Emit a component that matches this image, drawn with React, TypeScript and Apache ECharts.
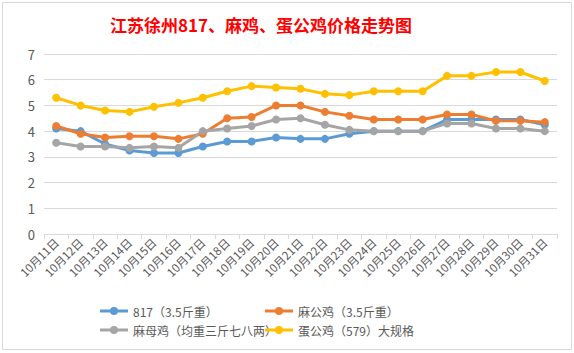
import React, { useEffect, useRef } from "react";
import * as echarts from "echarts";

const categories = [
  "10月11日", "10月12日", "10月13日", "10月14日", "10月15日", "10月16日", "10月17日",
  "10月18日", "10月19日", "10月20日", "10月21日", "10月22日", "10月23日", "10月24日",
  "10月25日", "10月26日", "10月27日", "10月28日", "10月29日", "10月30日", "10月31日",
];

const s817 = [4.1, 4.0, 3.5, 3.25, 3.15, 3.15, 3.4, 3.6, 3.6, 3.75, 3.7, 3.7, 3.9, 4.0, 4.0, 4.0, 4.45, 4.45, 4.45, 4.45, 4.25];
const maGongJi = [4.2, 3.9, 3.75, 3.8, 3.8, 3.7, 3.9, 4.5, 4.55, 5.0, 5.0, 4.75, 4.6, 4.45, 4.45, 4.45, 4.65, 4.65, 4.4, 4.4, 4.35];
const maMuJi = [3.55, 3.4, 3.4, 3.35, 3.4, 3.35, 4.0, 4.1, 4.2, 4.45, 4.5, 4.25, 4.05, 4.0, 4.0, 4.0, 4.3, 4.3, 4.1, 4.1, 4.0];
const danGongJi = [5.3, 5.0, 4.8, 4.75, 4.95, 5.1, 5.3, 5.55, 5.75, 5.7, 5.65, 5.45, 5.4, 5.55, 5.55, 5.55, 6.15, 6.15, 6.3, 6.3, 5.95];

const seriesNames = ["817（3.5斤重）", "麻公鸡（3.5斤重）", "麻母鸡（均重三斤七八两）", "蛋公鸡（579）大规格"];
const seriesData = [s817, maGongJi, maMuJi, danGongJi];
const colors = ["#5b9bd5", "#ed7d31", "#a5a5a5", "#ffc000"];

const FONT = "'Noto Sans CJK SC', 'Microsoft YaHei', sans-serif";
const LEGEND_ICON = "path://M0,2.5H28V5.5H0Z M10,4A4,4 0 0 1 18,4A4,4 0 0 1 10,4Z";

export default function App() {
  const ref = useRef<HTMLDivElement>(null);
  useEffect(() => {
    if (!ref.current) return;
    const chart = echarts.init(ref.current, null, { renderer: "svg" });
    const legendPos = [
      { left: 100, top: 305 },
      { left: 265, top: 305 },
      { left: 100, top: 324 },
      { left: 265, top: 324 },
    ];
    chart.setOption({
      animation: false,
      backgroundColor: "#ffffff",
      textStyle: { fontFamily: FONT },
      graphic: [
        {
          type: "rect",
          shape: { x: 2.5, y: 2.5, width: 569, height: 347 },
          style: { fill: "none", stroke: "#d9d9d9", lineWidth: 1 },
          silent: true,
        },
        {
          type: "text",
          x: 261,
          y: 16,
          style: {
            text: "江苏徐州817、麻鸡、蛋公鸡价格走势图",
            fill: "#ff0000",
            font: `bold 17px ${FONT}`,
            textAlign: "center",
          },
        },
      ],
      legend: seriesNames.map((n, i) => ({
        data: [{ name: n, icon: LEGEND_ICON }],
        left: legendPos[i].left,
        top: legendPos[i].top,
        itemWidth: 28,
        itemHeight: 8,
        itemGap: 4,
        padding: 0,
        textStyle: { color: "#595959", fontSize: 12, fontFamily: FONT },
      })),
      grid: { left: 44, right: 17, top: 54, bottom: 119, containLabel: false },
      xAxis: {
        type: "category",
        data: categories,
        boundaryGap: true,
        axisLine: { lineStyle: { color: "#d9d9d9" } },
        axisTick: { show: true, length: 5, lineStyle: { color: "#d9d9d9" } },
        axisLabel: { rotate: 45, interval: 0, color: "#595959", fontSize: 11.5, margin: 6, fontFamily: FONT },
      },
      yAxis: {
        type: "value",
        min: 0,
        max: 7,
        interval: 1,
        axisLine: { show: false },
        axisTick: { show: false },
        splitLine: { lineStyle: { color: "#d9d9d9" } },
        axisLabel: { color: "#595959", fontSize: 13, margin: 9, fontFamily: FONT },
      },
      series: seriesNames.map((n, i) => ({
        name: n,
        type: "line",
        data: seriesData[i],
        symbol: "circle",
        symbolSize: 8,
        lineStyle: { width: 3, color: colors[i] },
        itemStyle: { color: colors[i] },
        emphasis: { disabled: true },
      })),
    });
    return () => chart.dispose();
  }, []);
  return (
    <div
      ref={ref}
      style={{ position: "fixed", left: 0, top: 0, width: 574, height: 353 }}
    />
  );
}
